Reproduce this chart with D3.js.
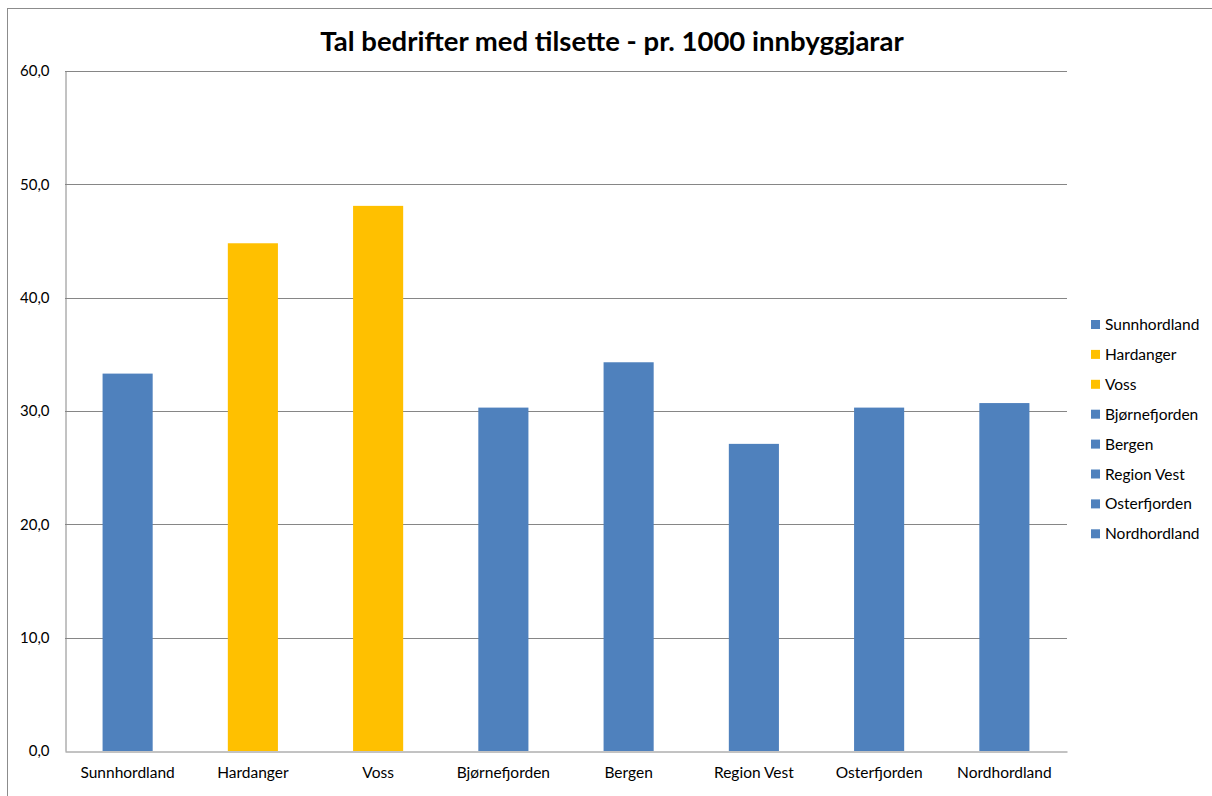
<html>
<head>
    <script type="text/javascript" src="https://cdn.jsdelivr.net/npm/d3@7"></script>
    <style type="text/css">
        body { margin: 0; background: #fff; }
        svg text { font-family: Lato, 'Open Sans', sans-serif; fill: #000; }
        .title { font-size: 27.5px; font-weight: 700; }
        .x-axis .tick text { font-size: 15.5px; }
        .y-axis .tick text { font-size: 15px; }
        .legend text { font-size: 15.5px; }
    </style>
</head>
<body>
<div id="chart"></div>
<script type="text/javascript">
var categories = ['Sunnhordland', 'Hardanger', 'Voss', 'Bjørnefjorden', 'Bergen', 'Region Vest', 'Osterfjorden', 'Nordhordland'];
var values = [33.3, 44.8, 48.1, 30.3, 34.3, 27.1, 30.3, 30.7];
var barColors = ['#4F81BD', '#FFC000', '#FFC000', '#4F81BD', '#4F81BD', '#4F81BD', '#4F81BD', '#4F81BD'];
var yTicks = [0, 10, 20, 30, 40, 50, 60];

var WIDTH = 1212, HEIGHT = 796;
var PLOT_LEFT = 65, PLOT_RIGHT = 1067, PLOT_TOP = 71, PLOT_BOTTOM = 751;

var svg = d3.select('#chart').append('svg')
    .attr('width', WIDTH)
    .attr('height', HEIGHT);

// outer chart border (runs off the page right and bottom)
svg.append('rect')
    .attr('x', 7.5).attr('y', 8.5)
    .attr('width', WIDTH + 10).attr('height', HEIGHT + 10)
    .attr('fill', 'none')
    .attr('stroke', '#8c8c8c')
    .attr('stroke-width', 1);

var x = d3.scaleBand()
    .domain(categories)
    .range([PLOT_LEFT, PLOT_RIGHT])
    .paddingInner(0.6)
    .paddingOuter(0.3);

var y = d3.scaleLinear()
    .domain([0, 60])
    .range([PLOT_BOTTOM, PLOT_TOP]);

var fmt = function(d) { return d3.format('.1f')(d).replace('.', ','); };

// gridlines
svg.append('g').selectAll('line')
    .data(yTicks.filter(function(d) { return d > 0; }))
    .enter().append('line')
    .attr('x1', PLOT_LEFT).attr('x2', PLOT_RIGHT)
    .attr('y1', function(d) { return Math.round(y(d)) + 0.5; })
    .attr('y2', function(d) { return Math.round(y(d)) + 0.5; })
    .attr('stroke', '#868686');

// bars
svg.append('g').selectAll('rect')
    .data(values)
    .enter().append('rect')
    .attr('x', function(d, i) { return x(categories[i]); })
    .attr('width', x.bandwidth())
    .attr('y', function(d) { return y(d); })
    .attr('height', function(d) { return y(0) - y(d); })
    .attr('fill', function(d, i) { return barColors[i]; });

// y axis
var yAxis = svg.append('g')
    .attr('class', 'y-axis')
    .attr('transform', 'translate(' + (PLOT_LEFT + 0.5) + ',0)')
    .call(d3.axisLeft(y).tickValues(yTicks).tickFormat(fmt).tickSize(0).tickPadding(16));
yAxis.select('.domain').attr('stroke', '#868686');

// x axis
var xAxis = svg.append('g')
    .attr('class', 'x-axis')
    .attr('transform', 'translate(0,' + (PLOT_BOTTOM + 0.5) + ')')
    .call(d3.axisBottom(x).tickSize(0).tickPadding(15));
xAxis.select('.domain').attr('stroke', '#868686');

// title
svg.append('text')
    .attr('class', 'title')
    .attr('x', 612)
    .attr('y', 51)
    .attr('text-anchor', 'middle')
    .text('Tal bedrifter med tilsette - pr. 1000 innbyggjarar');

// legend
var legend = svg.append('g').attr('class', 'legend')
    .selectAll('g')
    .data(categories)
    .enter().append('g')
    .attr('transform', function(d, i) { return 'translate(1091,' + (320 + i * 29.9) + ')'; });
legend.append('rect')
    .attr('width', 9).attr('height', 9)
    .attr('fill', function(d, i) { return barColors[i]; });
legend.append('text')
    .attr('x', 14).attr('y', 10)
    .text(function(d) { return d; });
</script>
</body>
</html>
